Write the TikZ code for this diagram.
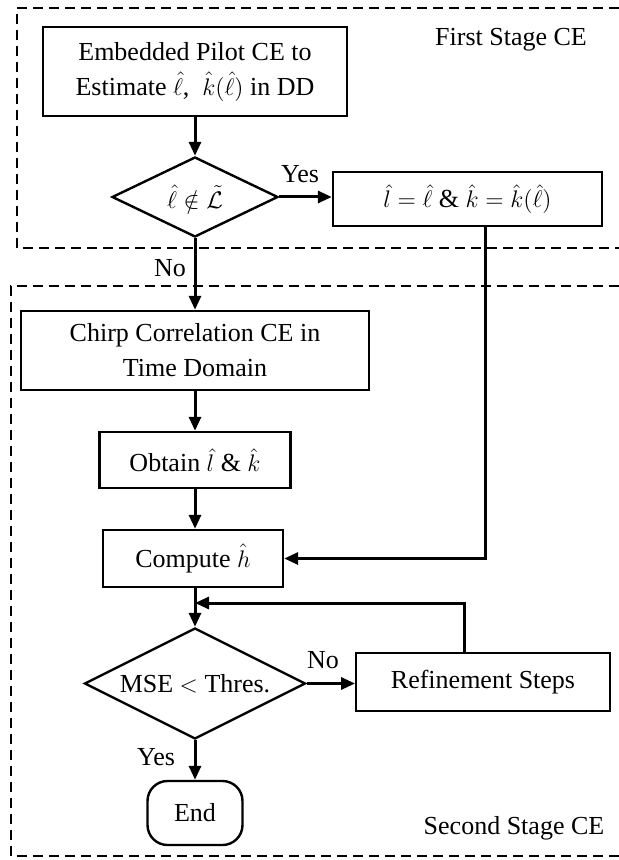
\documentclass[tikz,border=0pt]{standalone}
\usepackage{fontspec}
\setmainfont{Liberation Serif}
\usetikzlibrary{arrows.meta,shapes.geometric,shapes.misc}
\tikzset{
  txt/.style={font=\fontsize{13pt}{17.5pt}\selectfont},
  box/.style={txt,draw,line width=1.2pt,rectangle,inner sep=2pt,align=center},
  dec/.style={txt,draw,line width=1.2pt,diamond,aspect=2,inner sep=0pt,align=center},
  arr/.style={line width=1.5pt,-{Triangle[length=7pt,width=6pt]}},
  stage/.style={line width=1pt,dash pattern=on 5pt off 3pt},
  lbl/.style={txt,inner sep=0pt}
}
\begin{document}
\begin{tikzpicture}[x=0.5pt,y=-0.5pt]
\useasboundingbox (0,0) rectangle (619,860);
% stage frames
\draw[stage] (619,8) -- (17,8) -- (17,248) -- (619,248);
\draw[stage] (619,286) -- (11,286) -- (11,856) -- (619,856);
\node[lbl] (fs) at (511,40) {First Stage CE};
\node[lbl] (ss) at (514,828) {Second Stage CE};
% nodes
\node[box,minimum width=152pt,minimum height=44.5pt] (emb) at (195,71.5)
  {Embedded Pilot CE to\\Estimate $\hat{\ell}$,\ \ $\hat{k}(\hat{\ell})$ in DD};
\node[dec,minimum width=83pt,minimum height=40pt] (d1) at (195,197)
  {$\hat{\ell}\notin\tilde{\mathcal{L}}$};
\node[box,minimum width=134.5pt,minimum height=27pt] (lk) at (467.5,199)
  {$\hat{l}=\hat{\ell}$ \& $\hat{k}=\hat{k}(\hat{\ell})$};
\node[box,minimum width=174pt,minimum height=39.5pt] (chirp) at (195,350.5)
  {Chirp Correlation CE in\\Time Domain};
\node[box,minimum width=95.5pt,minimum height=28pt] (obt) at (195,460)
  {Obtain $\hat{l}$ \& $\hat{k}$};
\node[box,minimum width=90pt,minimum height=28.5pt] (comp) at (193,558.5)
  {Compute $\hat{h}$};
\node[dec,minimum width=110.5pt,minimum height=55.5pt] (d2) at (195,683.5)
  {MSE $<$ Thres.};
\node[box,minimum width=126.75pt,minimum height=29pt] (ref) at (483,682)
  {Refinement Steps};
\node[txt,draw,line width=1.2pt,rectangle,rounded corners=10pt,
  minimum width=47.5pt,minimum height=32pt,inner sep=2pt] (end) at (195,813) {End};
% labels
\node[lbl] (y1) at (300,174) {Yes};
\node[lbl] (n1) at (170,268) {No};
\node[lbl] (n2) at (323,660) {No};
\node[lbl] (y2) at (156,757) {Yes};
% connectors
\coordinate (xr) at (485,558.5);
\coordinate (j) at (195,603);
\draw[arr] (emb.south) -- (d1.north);
\draw[arr] (d1.east) -- (d1.east -| lk.west);
\draw[arr] (d1.south) -- (chirp.north);
\draw[arr] (lk.south -| xr) |- (comp.east);
\draw[arr] (chirp.south) -- (obt.north);
\draw[arr] (obt.south) -- (obt.south |- comp.north);
\draw[arr] (comp.south -| d2.north) -- (d2.north);
\draw[arr] (d2.east) -- (d2.east -| ref.west);
\draw[arr] ([xshift=-9.5pt]ref.north) |- (j);
\draw[arr] (d2.south) -- (end.north);
\end{tikzpicture}
\end{document}
